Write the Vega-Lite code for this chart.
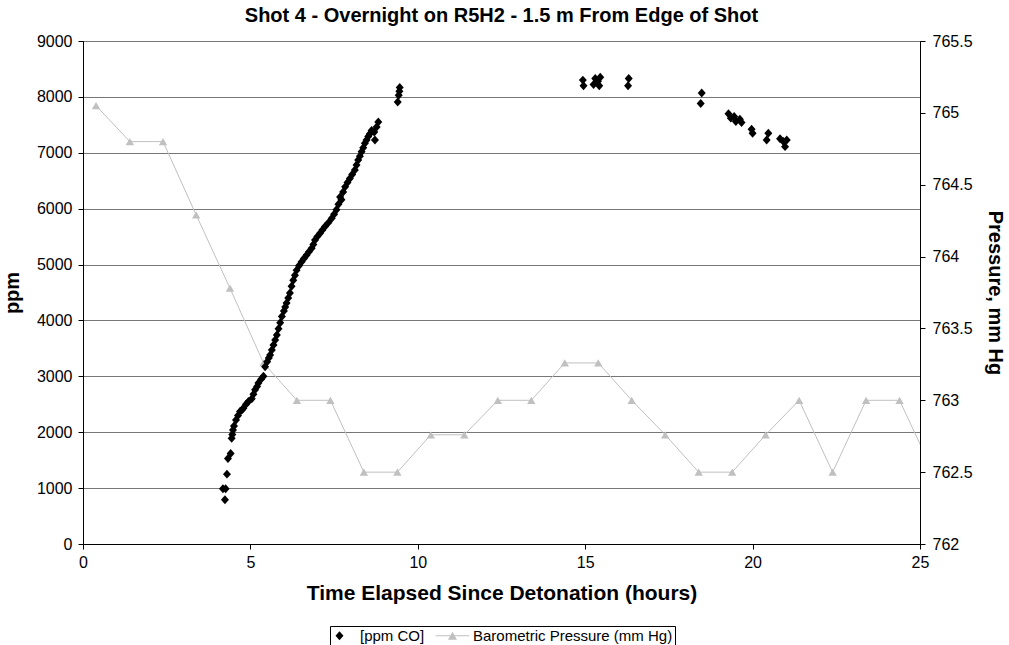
{
  "$schema": "https://vega.github.io/schema/vega-lite/v6.json",
  "width": 837,
  "height": 503,
  "autosize": {"type": "none"},
  "padding": {"left": 83, "top": 41, "right": 89, "bottom": 101},
  "background": "white",
  "config": {
    "view": {"stroke": "#000000", "strokeWidth": 1},
    "font": "Liberation Sans",
    "axis": {"labelFont": "Liberation Sans", "titleFont": "Liberation Sans", "labelColor": "#000000", "titleColor": "#000000", "domainColor": "#000000", "tickColor": "#000000", "labelFontSize": 16, "titleFontSize": 20, "titleFontWeight": "bold", "tickSize": 5, "labelPadding": 5, "labelFlush": false, "labelOverlap": false}
  },
  "title": {"text": "Shot 4 - Overnight on R5H2 - 1.5 m From Edge of Shot", "font": "Liberation Sans", "fontSize": 20, "fontWeight": "bold", "color": "#000000", "anchor": "middle", "offset": 7},
  "datasets": {
    "co": [
      {"t": 4.18, "ppm": 990, "series": "[ppm CO]"}, {"t": 4.24, "ppm": 790, "series": "[ppm CO]"}, {"t": 4.26, "ppm": 990, "series": "[ppm CO]"},
      {"t": 4.3, "ppm": 1250, "series": "[ppm CO]"}, {"t": 4.33, "ppm": 1530, "series": "[ppm CO]"}, {"t": 4.41, "ppm": 1620, "series": "[ppm CO]"},
      {"t": 4.44, "ppm": 1890, "series": "[ppm CO]"}, {"t": 4.46, "ppm": 1960, "series": "[ppm CO]"}, {"t": 4.48, "ppm": 2040, "series": "[ppm CO]"},
      {"t": 4.51, "ppm": 2110, "series": "[ppm CO]"}, {"t": 4.57, "ppm": 2220, "series": "[ppm CO]"}, {"t": 4.63, "ppm": 2300, "series": "[ppm CO]"},
      {"t": 4.69, "ppm": 2370, "series": "[ppm CO]"}, {"t": 4.75, "ppm": 2400, "series": "[ppm CO]"}, {"t": 4.79, "ppm": 2430, "series": "[ppm CO]"},
      {"t": 4.87, "ppm": 2500, "series": "[ppm CO]"}, {"t": 4.94, "ppm": 2550, "series": "[ppm CO]"}, {"t": 5.04, "ppm": 2600, "series": "[ppm CO]"},
      {"t": 5.09, "ppm": 2680, "series": "[ppm CO]"}, {"t": 5.14, "ppm": 2760, "series": "[ppm CO]"}, {"t": 5.2, "ppm": 2820, "series": "[ppm CO]"},
      {"t": 5.24, "ppm": 2880, "series": "[ppm CO]"}, {"t": 5.32, "ppm": 2950, "series": "[ppm CO]"}, {"t": 5.39, "ppm": 3000, "series": "[ppm CO]"},
      {"t": 5.44, "ppm": 3170, "series": "[ppm CO]"}, {"t": 5.5, "ppm": 3260, "series": "[ppm CO]"}, {"t": 5.55, "ppm": 3330, "series": "[ppm CO]"},
      {"t": 5.59, "ppm": 3380, "series": "[ppm CO]"}, {"t": 5.64, "ppm": 3470, "series": "[ppm CO]"}, {"t": 5.69, "ppm": 3560, "series": "[ppm CO]"},
      {"t": 5.74, "ppm": 3650, "series": "[ppm CO]"}, {"t": 5.79, "ppm": 3740, "series": "[ppm CO]"}, {"t": 5.84, "ppm": 3850, "series": "[ppm CO]"},
      {"t": 5.89, "ppm": 3960, "series": "[ppm CO]"}, {"t": 5.94, "ppm": 4070, "series": "[ppm CO]"}, {"t": 6.0, "ppm": 4170, "series": "[ppm CO]"},
      {"t": 6.04, "ppm": 4240, "series": "[ppm CO]"}, {"t": 6.08, "ppm": 4310, "series": "[ppm CO]"}, {"t": 6.13, "ppm": 4400, "series": "[ppm CO]"},
      {"t": 6.18, "ppm": 4490, "series": "[ppm CO]"}, {"t": 6.23, "ppm": 4610, "series": "[ppm CO]"}, {"t": 6.28, "ppm": 4720, "series": "[ppm CO]"},
      {"t": 6.33, "ppm": 4810, "series": "[ppm CO]"}, {"t": 6.38, "ppm": 4900, "series": "[ppm CO]"}, {"t": 6.45, "ppm": 4980, "series": "[ppm CO]"},
      {"t": 6.53, "ppm": 5050, "series": "[ppm CO]"}, {"t": 6.6, "ppm": 5110, "series": "[ppm CO]"}, {"t": 6.68, "ppm": 5170, "series": "[ppm CO]"},
      {"t": 6.75, "ppm": 5230, "series": "[ppm CO]"}, {"t": 6.83, "ppm": 5290, "series": "[ppm CO]"}, {"t": 6.88, "ppm": 5360, "series": "[ppm CO]"},
      {"t": 6.93, "ppm": 5440, "series": "[ppm CO]"}, {"t": 7.0, "ppm": 5500, "series": "[ppm CO]"}, {"t": 7.08, "ppm": 5560, "series": "[ppm CO]"},
      {"t": 7.15, "ppm": 5620, "series": "[ppm CO]"}, {"t": 7.23, "ppm": 5680, "series": "[ppm CO]"}, {"t": 7.33, "ppm": 5750, "series": "[ppm CO]"},
      {"t": 7.43, "ppm": 5830, "series": "[ppm CO]"}, {"t": 7.5, "ppm": 5900, "series": "[ppm CO]"}, {"t": 7.57, "ppm": 5980, "series": "[ppm CO]"},
      {"t": 7.63, "ppm": 6080, "series": "[ppm CO]"}, {"t": 7.68, "ppm": 6210, "series": "[ppm CO]"}, {"t": 7.72, "ppm": 6160, "series": "[ppm CO]"},
      {"t": 7.77, "ppm": 6300, "series": "[ppm CO]"}, {"t": 7.83, "ppm": 6390, "series": "[ppm CO]"}, {"t": 7.9, "ppm": 6470, "series": "[ppm CO]"},
      {"t": 7.97, "ppm": 6540, "series": "[ppm CO]"}, {"t": 8.04, "ppm": 6610, "series": "[ppm CO]"}, {"t": 8.12, "ppm": 6690, "series": "[ppm CO]"},
      {"t": 8.17, "ppm": 6780, "series": "[ppm CO]"}, {"t": 8.22, "ppm": 6870, "series": "[ppm CO]"}, {"t": 8.27, "ppm": 6940, "series": "[ppm CO]"},
      {"t": 8.32, "ppm": 7020, "series": "[ppm CO]"}, {"t": 8.37, "ppm": 7090, "series": "[ppm CO]"}, {"t": 8.42, "ppm": 7170, "series": "[ppm CO]"},
      {"t": 8.47, "ppm": 7230, "series": "[ppm CO]"}, {"t": 8.52, "ppm": 7290, "series": "[ppm CO]"}, {"t": 8.57, "ppm": 7340, "series": "[ppm CO]"},
      {"t": 8.62, "ppm": 7400, "series": "[ppm CO]"}, {"t": 8.7, "ppm": 7370, "series": "[ppm CO]"}, {"t": 8.72, "ppm": 7230, "series": "[ppm CO]"},
      {"t": 8.77, "ppm": 7460, "series": "[ppm CO]"}, {"t": 8.82, "ppm": 7550, "series": "[ppm CO]"},
      {"t": 9.4, "ppm": 7910, "series": "[ppm CO]"}, {"t": 9.43, "ppm": 8030, "series": "[ppm CO]"}, {"t": 9.45, "ppm": 8100, "series": "[ppm CO]"}, {"t": 9.46, "ppm": 8170, "series": "[ppm CO]"},
      {"t": 14.93, "ppm": 8300, "series": "[ppm CO]"}, {"t": 14.95, "ppm": 8200, "series": "[ppm CO]"}, {"t": 15.25, "ppm": 8220, "series": "[ppm CO]"},
      {"t": 15.3, "ppm": 8330, "series": "[ppm CO]"}, {"t": 15.38, "ppm": 8280, "series": "[ppm CO]"}, {"t": 15.45, "ppm": 8350, "series": "[ppm CO]"},
      {"t": 15.42, "ppm": 8200, "series": "[ppm CO]"}, {"t": 16.3, "ppm": 8330, "series": "[ppm CO]"}, {"t": 16.28, "ppm": 8200, "series": "[ppm CO]"},
      {"t": 18.48, "ppm": 8070, "series": "[ppm CO]"}, {"t": 18.45, "ppm": 7880, "series": "[ppm CO]"},
      {"t": 19.28, "ppm": 7700, "series": "[ppm CO]"}, {"t": 19.35, "ppm": 7620, "series": "[ppm CO]"}, {"t": 19.45, "ppm": 7650, "series": "[ppm CO]"},
      {"t": 19.5, "ppm": 7560, "series": "[ppm CO]"}, {"t": 19.62, "ppm": 7600, "series": "[ppm CO]"}, {"t": 19.67, "ppm": 7540, "series": "[ppm CO]"},
      {"t": 19.97, "ppm": 7420, "series": "[ppm CO]"}, {"t": 20.0, "ppm": 7350, "series": "[ppm CO]"}, {"t": 20.47, "ppm": 7350, "series": "[ppm CO]"},
      {"t": 20.42, "ppm": 7230, "series": "[ppm CO]"}, {"t": 20.82, "ppm": 7250, "series": "[ppm CO]"}, {"t": 20.92, "ppm": 7200, "series": "[ppm CO]"},
      {"t": 20.97, "ppm": 7110, "series": "[ppm CO]"}, {"t": 21.02, "ppm": 7230, "series": "[ppm CO]"}
    ],
    "pres": [
      {"t": 0.39, "p": 765.05}, {"t": 1.4, "p": 764.8}, {"t": 2.39, "p": 764.8}, {"t": 3.38, "p": 764.29},
      {"t": 4.39, "p": 763.78}, {"t": 5.39, "p": 763.26}, {"t": 6.39, "p": 763.0}, {"t": 7.39, "p": 763.0},
      {"t": 8.39, "p": 762.5}, {"t": 9.39, "p": 762.5}, {"t": 10.39, "p": 762.76}, {"t": 11.39, "p": 762.76},
      {"t": 12.39, "p": 763.0}, {"t": 13.39, "p": 763.0}, {"t": 14.39, "p": 763.26}, {"t": 15.39, "p": 763.26},
      {"t": 16.39, "p": 763.0}, {"t": 17.39, "p": 762.76}, {"t": 18.39, "p": 762.5}, {"t": 19.39, "p": 762.5},
      {"t": 20.39, "p": 762.76}, {"t": 21.39, "p": 763.0}, {"t": 22.39, "p": 762.5}, {"t": 23.39, "p": 763.0},
      {"t": 24.39, "p": 763.0}, {"t": 25.39, "p": 762.5}
    ]
  },
  "layer": [
    {
      "data": {"name": "pres"},
      "layer": [
        {
          "mark": {"type": "line", "color": "#c0c0c0", "strokeWidth": 1, "clip": true},
          "encoding": {
            "x": {"field": "t", "type": "quantitative", "scale": {"domain": [0, 25], "nice": false, "zero": false},
              "axis": {"title": "Time Elapsed Since Detonation (hours)", "values": [0, 5, 10, 15, 20, 25], "grid": false, "titleFontSize": 21, "titlePadding": 12}},
            "y": {"field": "p", "type": "quantitative", "scale": {"domain": [762, 765.5], "zero": false, "nice": false},
              "axis": {"orient": "right", "title": "Pressure, mm Hg", "format": "~f", "values": [762, 762.5, 763, 763.5, 764, 764.5, 765, 765.5], "grid": false, "labelPadding": 7, "titlePadding": 12, "titleAngle": 90}}
          }
        },
        {
          "mark": {"type": "point", "shape": "triangle-up", "filled": true, "size": 70, "color": "#c0c0c0", "opacity": 1, "clip": true},
          "encoding": {
            "x": {"field": "t", "type": "quantitative", "scale": {"domain": [0, 25], "nice": false, "zero": false}},
            "y": {"field": "p", "type": "quantitative", "scale": {"domain": [762, 765.5], "zero": false, "nice": false}}
          }
        }
      ]
    },
    {
      "data": {"name": "co"},
      "mark": {"type": "point", "filled": true, "size": 196, "opacity": 1},
      "encoding": {
        "x": {"field": "t", "type": "quantitative", "scale": {"domain": [0, 25], "nice": false, "zero": false},
          "axis": {"title": "Time Elapsed Since Detonation (hours)", "values": [0, 5, 10, 15, 20, 25], "grid": false, "titleFontSize": 21, "titlePadding": 12}},
        "y": {"field": "ppm", "type": "quantitative", "scale": {"domain": [0, 9000], "nice": false},
          "axis": {"orient": "left", "title": "ppm", "format": "d", "values": [0, 1000, 2000, 3000, 4000, 5000, 6000, 7000, 8000, 9000], "grid": true, "gridColor": "#777777", "gridWidth": 1, "labelPadding": 6, "titlePadding": 14}},
        "shape": {"field": "series", "type": "nominal",
          "scale": {"domain": ["[ppm CO]", "Barometric Pressure (mm Hg)"], "range": ["M0,-0.64L0.57,0L0,0.64L-0.57,0Z", "M-2.4,-0.07H2.4V0.07H-2.4ZM-0.64,0.57L0,-0.57L0.64,0.57Z"]},
          "legend": {"title": null, "orient": "none", "legendX": 247, "legendY": 585, "direction": "horizontal", "strokeColor": "#000000", "padding": 2, "labelFont": "Liberation Sans", "labelFontSize": 15, "labelColor": "#000000", "labelLimit": 400, "symbolSize": 196, "symbolStrokeWidth": 0, "labelOffset": 13, "columnPadding": 10}},
        "color": {"field": "series", "type": "nominal",
          "scale": {"domain": ["[ppm CO]", "Barometric Pressure (mm Hg)"], "range": ["#000000", "#c0c0c0"]},
          "legend": {"title": null, "orient": "none", "legendX": 247, "legendY": 585, "direction": "horizontal", "labelLimit": 400}}
      }
    }
  ],
  "resolve": {"scale": {"y": "independent"}}
}
